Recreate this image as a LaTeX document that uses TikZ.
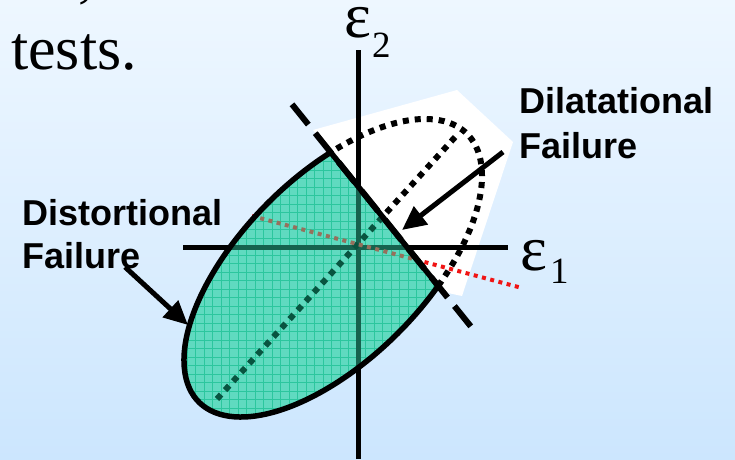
\documentclass[tikz,border=0pt]{standalone}
\usepackage{fontspec}
\setmainfont{Liberation Serif}
\newfontfamily\labfont{Liberation Sans}
\usetikzlibrary{arrows.meta,calc}
\definecolor{bgtop}{RGB}{238,247,255}
\definecolor{bgbot}{RGB}{204,230,254}
\definecolor{tealfill}{RGB}{96,218,192}
\definecolor{tealgrid}{RGB}{44,198,158}
\definecolor{darkax}{RGB}{22,98,78}
\definecolor{darkdot}{RGB}{8,84,64}
\definecolor{browndot}{RGB}{150,112,92}
\definecolor{reddot}{RGB}{240,20,20}
\tikzset{
  axisline/.style={line width=5pt},
  dotline/.style={line width=6pt, dash pattern=on 6pt off 6pt},
  reddots/.style={line width=4pt, dash pattern=on 4pt off 4.5pt},
  boundary/.style={line width=5.5pt, line join=miter},
  cutdash/.style={line width=6pt, dash pattern=on 26pt off 11pt},
  pointer/.style={line width=5pt, -{Triangle[length=24pt,width=22pt]}},
  lab/.style={font=\labfont\bfseries\fontsize{36}{36}\selectfont, inner sep=0pt, anchor=base west},
  serif/.style={inner sep=0pt, anchor=base west},
}
\begin{document}
\begin{tikzpicture}[x=1pt,y=1pt]
\useasboundingbox (0,0) rectangle (735,459);
\clip (0,0) rectangle (735,459);
\shade[top color=bgtop, bottom color=bgbot] (0,0) rectangle (735,459);
\fill[white] (313,329) -- (457,369) -- (513,317) -- (462,163) -- (448,166) -- cycle;

\coordinate (vxT) at (358,409);
\coordinate (vxB) at (358,0);
\coordinate (hxL) at (183,212);
\coordinate (hxR) at (508,212);
\coordinate (rA) at (252,243);
\coordinate (rB) at (522,171);
\coordinate (mA) at (217,60);
\coordinate (mB) at (457,324);

\draw[axisline] (vxB) -- (vxT);
\draw[axisline] (hxL) -- (hxR);
\draw[reddots, reddot] (rA) -- (rB);
\draw[dotline] (mA) -- (mB);

\begin{scope}[shift={(333,191)},rotate=45]
  \coordinate (cutA) at (65:189.6pt and 92pt);
  \coordinate (cutB) at (-71:189.6pt and 92pt);
\end{scope}

\begin{scope}
  \clip[rotate=45] (cutA) arc[start angle=65,end angle=289,x radius=189.6pt,y radius=92pt] -- cycle;
  \fill[tealfill] (0,0) rectangle (735,459);
  \draw[tealgrid, line width=0.8pt] (0,0) grid[step=8.5pt] (735,459);
  \draw[axisline, darkax] (vxB) -- (vxT);
  \draw[axisline, darkax] (hxL) -- (hxR);
  \draw[dotline, darkdot] (mA) -- (mB);
  \draw[reddots, browndot] (rA) -- (rB);
\end{scope}

\draw[boundary, rotate=45] (cutA) arc[start angle=65,end angle=289,x radius=189.6pt,y radius=92pt] -- cycle;
\draw[dotline, rotate=45] (cutB) arc[start angle=-71,end angle=65,x radius=189.6pt,y radius=92pt];
\draw[cutdash] ($(cutA)!-0.36!(cutB)$) -- ($(cutA)!1.32!(cutB)$);

\node[serif, font=\fontsize{62}{62}\selectfont] (tests) at (11,389) {tests.};
\node[serif, font=\fontsize{62}{62}\selectfont] (comma) at (78,463) {,};
\node[serif, font=\fontsize{64}{64}\selectfont] (e2) at (344,421) {ε};
\node[serif, font=\fontsize{37}{37}\selectfont] (e2s) at (372,402) {2};
\node[serif, font=\fontsize{64}{64}\selectfont] (e1) at (520,189) {ε};
\node[serif, font=\fontsize{37}{37}\selectfont] (e1s) at (550,176) {1};

\node[lab] (dil1) at (519,346) {Dilatational};
\node[lab] (dil2) at (519,301) {Failure};
\node[lab] (dis1) at (22,234) {Distortional};
\node[lab] (dis2) at (22,191) {Failure};

\coordinate (dilS) at (503,307);
\coordinate (dilT) at (402,229);
\coordinate (disS) at (125,192);
\coordinate (disT) at (188,134);
\draw[pointer] (dilS) -- (dilT);
\draw[pointer] (disS) -- (disT);
\end{tikzpicture}
\end{document}
